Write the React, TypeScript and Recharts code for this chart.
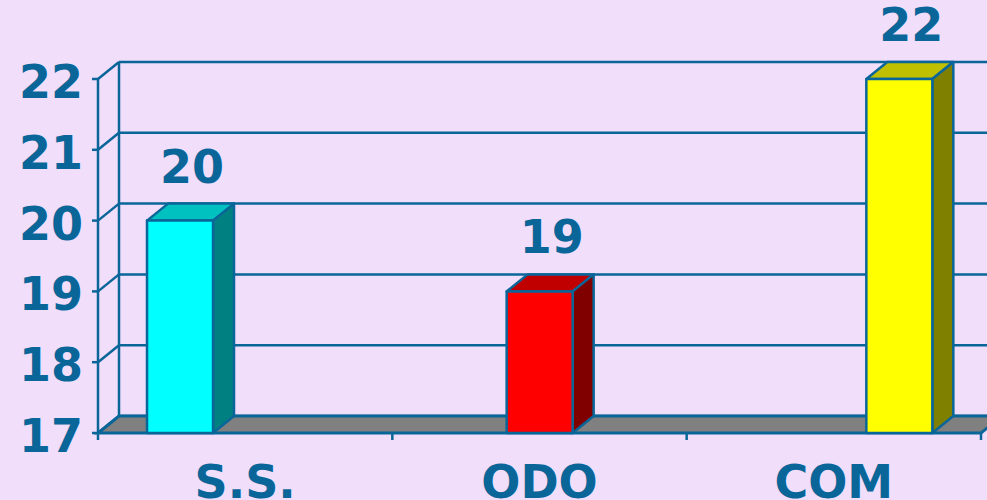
import { BarChart, Bar, XAxis, YAxis, CartesianGrid, ReferenceArea, LabelList } from "recharts";

const categories = ["S.S.", "ODO", "COM"];
const values = [20, 19, 22];
const frontColors = ["#00FFFF", "#FF0000", "#FFFF00"];
const topColors = ["#00C0C0", "#C00000", "#C0C000"];
const sideColors = ["#008080", "#800000", "#808000"];
const yTicks = [17, 18, 19, 20, 21, 22];

const BG = "#F1DEFB";
const INK = "#0A6699";
const FONT = "'DejaVu Sans', Verdana, sans-serif";
// 3d depth offset of the back wall
const DX = 21;
const DY = -17;

const data = categories.map((name, i) => ({
  name,
  value: values[i],
  front: frontColors[i],
  top: topColors[i],
  side: sideColors[i],
}));

function Bar3D(props: any) {
  const { x, y, width, height, payload } = props;
  const r = x + width;
  const b = y + height;
  return (
    <g stroke={INK} strokeWidth={2.5} strokeLinejoin="round">
      <polygon points={`${x},${y} ${x + DX},${y + DY} ${r + DX},${y + DY} ${r},${y}`} fill={payload.top} />
      <polygon points={`${r},${y} ${r + DX},${y + DY} ${r + DX},${b + DY} ${r},${b}`} fill={payload.side} />
      <rect x={x} y={y} width={width} height={height} fill={payload.front} />
    </g>
  );
}

function Floor(props: any) {
  const { x, y, width, height } = props;
  const b = y + height;
  const n = categories.length;
  return (
    <g stroke={INK}>
      <line x1={x + DX} y1={y + DY} x2={x + DX} y2={b + DY} strokeWidth={2.5} />
      <polygon
        points={`${x},${b} ${x + width},${b} ${x + width + DX},${b + DY} ${x + DX},${b + DY}`}
        fill="#808080"
        strokeWidth={3}
      />
      {Array.from({ length: n + 1 }, (_, i) => (
        <line key={i} x1={x + (i * width) / n} y1={b} x2={x + (i * width) / n} y2={b + 7} strokeWidth={2.5} />
      ))}
    </g>
  );
}

function YTick(props: any) {
  const { x, y, payload } = props;
  const ax = x + 15;
  return (
    <g>
      <line x1={ax} y1={y} x2={ax + DX} y2={y + DY} stroke={INK} strokeWidth={2.5} />
      <text x={x} y={y + 19} textAnchor="end" fill={INK} fontSize={46} fontWeight="bold" fontFamily={FONT}>
        {payload.value}
      </text>
    </g>
  );
}

function XTick(props: any) {
  const { x, y, payload } = props;
  return (
    <text x={x} y={y + 35} textAnchor="middle" fill={INK} fontSize={46} fontWeight="bold" fontFamily={FONT}>
      {payload.value}
    </text>
  );
}

function ValueLabel(props: any) {
  const { x, y, width, value } = props;
  return (
    <text x={x + width / 2 + 12} y={y - 38} textAnchor="middle" fill={INK} fontSize={46} fontWeight="bold" fontFamily={FONT}>
      {value}
    </text>
  );
}

export default function App() {
  return (
    <div style={{ position: "absolute", left: 0, top: 0, width: 987, height: 500, background: BG, overflow: "hidden" }}>
      <BarChart width={987} height={500} data={data} margin={{ top: 79, right: 6, bottom: 0, left: 0 }}>
        <CartesianGrid
          xAxisId="labels"
          vertical={false}
          horizontal={(p: any) => (
            <line
              key={`g-${p.index}`}
              x1={p.x1 + DX}
              y1={p.y1 + DY}
              x2={p.x2 + DX + 20}
              y2={p.y2 + DY}
              stroke={INK}
              strokeWidth={2.5}
            />
          )}
        />
        <XAxis
          xAxisId="labels"
          dataKey="name"
          height={67}
          axisLine={false}
          tickLine={false}
          tickSize={0}
          tickMargin={0}
          tick={<XTick />}
          interval={0}
        />
        <XAxis xAxisId="bars" dataKey="name" hide padding={{ left: -98, right: -98 }} />
        <YAxis
          width={98}
          domain={[17, 22]}
          ticks={yTicks}
          interval={0}
          axisLine={{ stroke: INK, strokeWidth: 2.5 }}
          tickLine={{ stroke: INK, strokeWidth: 2.5 }}
          tickSize={6}
          tickMargin={9}
          tick={<YTick />}
        />
        <ReferenceArea xAxisId="labels" y1={17} y2={22} shape={<Floor />} />
        <Bar xAxisId="bars" dataKey="value" barSize={66} shape={<Bar3D />} isAnimationActive={false}>
          <LabelList dataKey="value" content={<ValueLabel />} />
        </Bar>
      </BarChart>
    </div>
  );
}
